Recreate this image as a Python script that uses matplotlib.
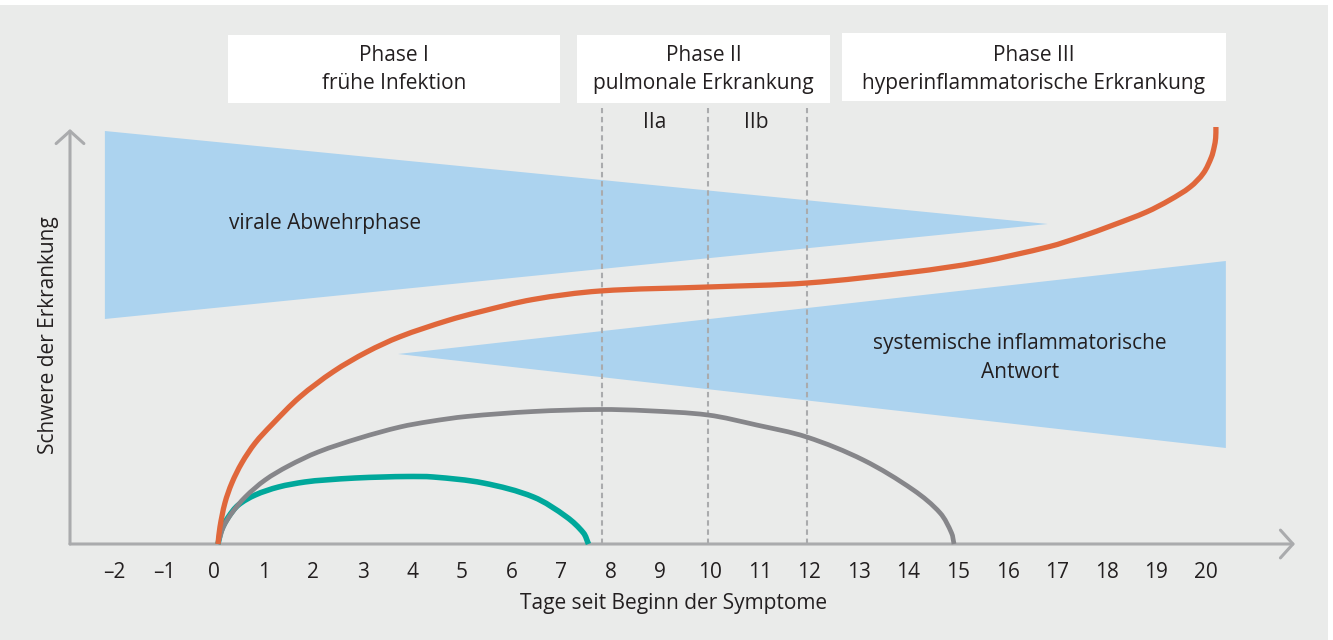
import matplotlib
matplotlib.use("Agg")
import numpy as np
import matplotlib.pyplot as plt
from matplotlib.path import Path
from matplotlib.patches import PathPatch, Rectangle, Polygon

plt.rcParams['font.family'] = ['Open Sans', 'DejaVu Sans']

# ---------------- data ----------------
tick_values = list(range(-2, 21))
tick_labels = ['–2', '–1'] + [str(v) for v in range(0, 21)]

# severe course (orange)
orange_x = [0.08, 0.12, 0.22, 0.36, 0.56, 0.83, 1.16, 1.73, 2.41, 3.08, 3.75, 4.70,
            5.36, 6.43, 7.78, 9.96, 11.96, 14.09, 15.44, 16.85, 17.46, 18.13, 18.80,
            19.27, 19.68, 19.95, 20.11, 20.165, 20.195, 20.20]
orange_y = [0.00, 0.17, 0.41, 0.61, 0.81, 1.01, 1.19, 1.47, 1.725, 1.92, 2.073, 2.233,
            2.322, 2.445, 2.53, 2.57, 2.61, 2.72, 2.82, 2.975, 3.07, 3.19, 3.32,
            3.44, 3.57, 3.71, 3.87, 3.97, 4.06, 4.17]
# moderate course (grey)
grey_x = [0.08, 0.19, 0.36, 0.63, 1.03, 1.50, 2.10, 2.94, 3.75, 4.35, 5.09, 6.44,
          7.78, 8.72, 9.96, 10.94, 11.95, 13.09, 14.10, 14.64, 14.87, 14.92]
grey_y = [0.00, 0.17, 0.31, 0.47, 0.64, 0.78, 0.92, 1.06, 1.17, 1.225, 1.275, 1.325,
          1.345, 1.333, 1.29, 1.19, 1.07, 0.84, 0.54, 0.31, 0.11, 0.00]
# mild course (teal)
teal_x = [0.08, 0.15, 0.29, 0.49, 0.83, 1.30, 1.83, 2.24, 2.85, 3.41, 3.90, 4.42,
          5.43, 6.44, 7.11, 7.45, 7.55]
teal_y = [0.00, 0.14, 0.27, 0.39, 0.49, 0.57, 0.62, 0.64, 0.66, 0.67, 0.675, 0.67,
          0.61, 0.47, 0.27, 0.11, 0.00]

# wedge shapes (x in days, y in severity)
viral_x = [-2.20, 16.81, -2.20]
viral_y = [4.13, 3.20, 2.25]
inflam_x = [3.71, 20.40, 20.40]
inflam_y = [1.90, 2.83, 0.96]

# phases
phase_left = [0.28, 7.32, 12.66]
phase_right = [6.98, 12.42, 20.40]
phase_top = [5.09, 5.09, 5.11]
phase_bottom = [4.415, 4.415, 4.435]
phase_title = ['Phase I', 'Phase II', 'Phase III']
phase_sub = ['frühe Infektion', 'pulmonale Erkrankung', 'hyperinflammatorische Erkrankung']
sub_lines = [7.82, 9.96, 11.96]
sub_labels = ['IIa', 'IIb']
sub_label_x = [8.89, 10.93]

# ---------------- style ----------------
BG = '#eaebea'
AXC = '#aaabad'
TXT = '#231f20'
BLUE = '#acd3ef'
ORANGE = '#e0673b'
GREY = '#86868a'
TEAL = '#00a89b'
FS = 15

fig = plt.figure(figsize=(13.33, 6.4), dpi=100, facecolor='white')
ax = fig.add_axes([0, 0, 1, 1])
ax.set_xlim(-214 / 49.6, (1333 - 214) / 49.6)
ax.set_ylim(-0.96, 5.44)
ax.axis('off')

# grey panel background
ax.add_patch(Rectangle((0, 0), 1328 / 1333, 635 / 640, transform=ax.transAxes,
                       facecolor=BG, edgecolor='none', zorder=0))

# wedges
ax.add_patch(Polygon(list(zip(viral_x, viral_y)), closed=True, facecolor=BLUE,
                     edgecolor='none', zorder=1))
ax.add_patch(Polygon(list(zip(inflam_x, inflam_y)), closed=True, facecolor=BLUE,
                     edgecolor='none', zorder=1))

# dashed sub-phase lines
for xv in sub_lines:
    ax.plot([xv, xv], [0, 4.36], color=AXC, lw=1.5, dashes=(2.6, 1.8), zorder=2)
for xv, lab in zip(sub_label_x, sub_labels):
    ax.text(xv, 4.22, lab, ha='center', va='center', fontsize=FS, color=TXT, zorder=5)


def smooth_path(xs, ys):
    """Smooth cubic (chord-length Catmull-Rom) path through the read points,
    built in display space and mapped back to data coordinates."""
    P = ax.transData.transform(np.column_stack([xs, ys]))
    n = len(P)
    d = np.linalg.norm(np.diff(P, axis=0), axis=1)
    t = np.concatenate([[0], np.cumsum(d)])
    M = np.zeros_like(P)
    M[0] = (P[1] - P[0]) / (t[1] - t[0])
    M[-1] = (P[-1] - P[-2]) / (t[-1] - t[-2])
    for i in range(1, n - 1):
        M[i] = (P[i + 1] - P[i - 1]) / (t[i + 1] - t[i - 1])
    verts = [P[0]]
    codes = [Path.MOVETO]
    for i in range(n - 1):
        h = t[i + 1] - t[i]
        verts += [P[i] + M[i] * h / 3, P[i + 1] - M[i + 1] * h / 3, P[i + 1]]
        codes += [Path.CURVE4] * 3
    verts = ax.transData.inverted().transform(np.array(verts))
    return Path(verts, codes)


for xs, ys, col, lw in [(teal_x, teal_y, TEAL, 4.0), (grey_x, grey_y, GREY, 3.4),
                        (orange_x, orange_y, ORANGE, 3.8)]:
    ax.add_patch(PathPatch(smooth_path(xs, ys), facecolor='none', edgecolor=col,
                           lw=lw, capstyle='butt', joinstyle='round', zorder=4))

# axes with arrows
x0 = (70 - 214) / 49.6
x1 = (1295 - 214) / 49.6
ytop = (544 - 129) / 100
arrow_kw = dict(arrowstyle='->, head_length=0.45, head_width=0.5', lw=2.2,
                color=AXC, shrinkA=0, shrinkB=0, mutation_scale=20)
ax.annotate('', xy=(x1, 0), xytext=(x0, 0), arrowprops=arrow_kw, zorder=3)
ax.annotate('', xy=(x0, ytop), xytext=(x0, 0), arrowprops=arrow_kw, zorder=3)

# tick labels
for v, lab in zip(tick_values, tick_labels):
    ax.text(v, -0.28, lab, ha='center', va='center', fontsize=FS, color=TXT)

ax.text(9.27, -0.59, 'Tage seit Beginn der Symptome', ha='center', va='center',
        fontsize=FS, color=TXT)
ax.text(-3.33, 2.09, 'Schwere der Erkrankung', ha='center', va='center',
        rotation=90, fontsize=FS, color=TXT)

# phase boxes
for l, r, t, b, tt, st in zip(phase_left, phase_right, phase_top, phase_bottom,
                              phase_title, phase_sub):
    ax.add_patch(Rectangle((l, b), r - l, t - b, facecolor='white', edgecolor='none',
                           zorder=3))
    cx = (l + r) / 2
    ax.text(cx, 4.885, tt, ha='center', va='center', fontsize=FS, color=TXT, zorder=5)
    ax.text(cx, 4.605, st, ha='center', va='center', fontsize=FS, color=TXT, zorder=5)

# wedge labels
ax.text(2.24, 3.20, 'virale Abwehrphase', ha='center', va='center', fontsize=FS,
        color=TXT, zorder=5)
ax.text(16.25, 2.01, 'systemische inflammatorische', ha='center', va='center',
        fontsize=FS, color=TXT, zorder=5)
ax.text(16.25, 1.72, 'Antwort', ha='center', va='center', fontsize=FS,
        color=TXT, zorder=5)

fig.savefig('out.png', dpi=100, facecolor=fig.get_facecolor())
